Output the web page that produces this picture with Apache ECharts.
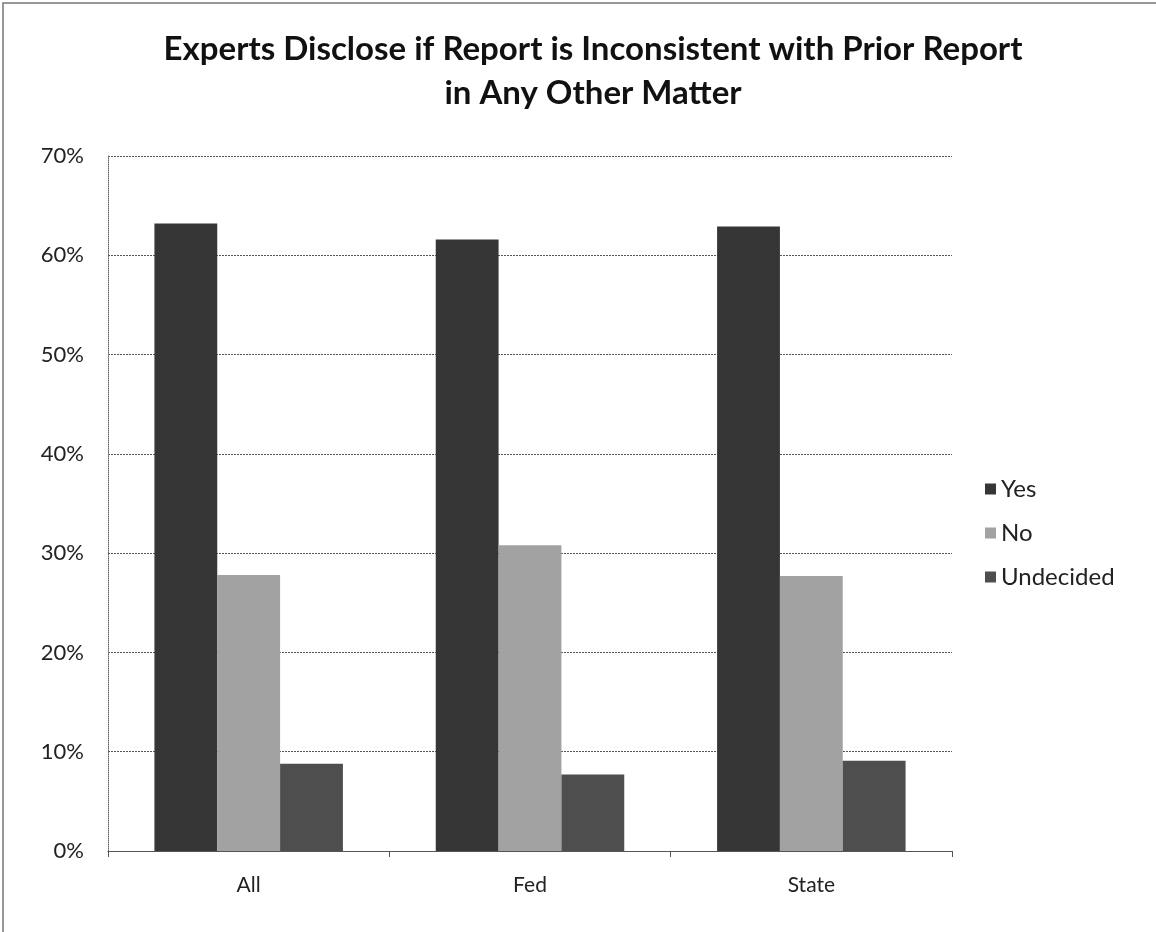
<!DOCTYPE html>
<html><head><meta charset="utf-8">
<script src="https://cdn.jsdelivr.net/npm/echarts@6/dist/echarts.min.js"></script>
<style>html,body{margin:0;padding:0;background:#fff}#c{width:1156px;height:932px}</style>
</head><body><div id="c"></div>
<script>
const categories = ['All', 'Fed', 'State'];
const yesValues = [63.2, 61.6, 62.9];
const noValues = [27.8, 30.8, 27.7];
const undecidedValues = [8.8, 7.7, 9.1];
const yTicks = [0, 10, 20, 30, 40, 50, 60, 70];

const chart = echarts.init(document.getElementById('c'));
const font = 'Lato, "Open Sans", sans-serif';
chart.setOption({
  animation: false,
  backgroundColor: '#fff',
  title: {
    text: 'Experts Disclose if Report is Inconsistent with Prior Report\nin Any Other Matter',
    left: 588, top: 22, textAlign: 'center',
    textStyle: { fontFamily: font, fontSize: 33, fontWeight: 'bold', color: '#111', lineHeight: 44 }
  },
  graphic: [{ type: 'rect', shape: { x: 3, y: 3, width: 1160, height: 940 }, style: { fill: 'none', stroke: '#777', lineWidth: 1.5 } }],
  legend: {
    orient: 'vertical', left: 980, top: 472, itemGap: 20, itemWidth: 11, itemHeight: 11, icon: 'rect',
    textStyle: { fontFamily: font, fontSize: 24, color: '#222' },
    data: ['Yes', 'No', 'Undecided']
  },
  grid: { left: 108, right: 204, top: 156, bottom: 81, containLabel: false },
  xAxis: {
    type: 'category', data: categories,
    axisLine: { lineStyle: { color: '#555', width: 1 } },
    axisTick: { show: true, length: 6, lineStyle: { color: '#555' } },
    axisLabel: { fontFamily: font, fontSize: 21, color: '#222', margin: 24 }
  },
  yAxis: {
    type: 'value', min: 0, max: 70, interval: 10,
    axisLine: { show: true, lineStyle: { color: '#666', type: 'dotted' } },
    axisTick: { show: false },
    splitLine: { lineStyle: { color: '#555', width: 1, type: [2, 1] } },
    axisLabel: {
      fontFamily: font, fontSize: 22, color: '#222', margin: 24,
      formatter: v => yTicks.includes(v) ? v + '%' : ''
    }
  },
  series: [
    { name: 'Yes', type: 'bar', data: yesValues, barGap: '0%', barCategoryGap: '33%', itemStyle: { color: '#363636' } },
    { name: 'No', type: 'bar', data: noValues, itemStyle: { color: '#a2a2a2' } },
    { name: 'Undecided', type: 'bar', data: undecidedValues, itemStyle: { color: '#4e4e4e' } }
  ]
});
</script></body></html>
